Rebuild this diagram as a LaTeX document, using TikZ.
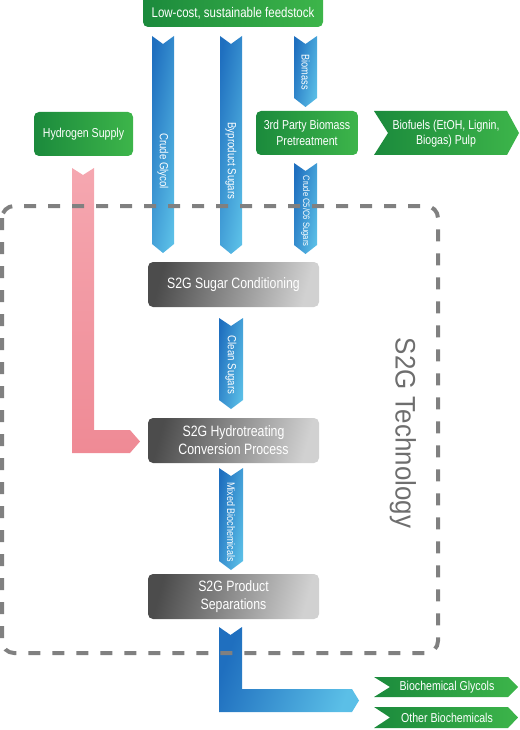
\documentclass[tikz,border=0pt]{standalone}
\usepackage{fontspec}
\setmainfont[FakeStretch=0.82]{Liberation Sans}
\newfontfamily\techfont[FakeStretch=0.92]{Liberation Sans}
\definecolor{gdark}{HTML}{1B8A3C}
\definecolor{glight}{HTML}{3DB54A}
\definecolor{bdark}{HTML}{1F6FBF}
\definecolor{blight}{HTML}{5BBFE7}
\definecolor{pinkA}{HTML}{F5A7B0}
\definecolor{pinkB}{HTML}{EF8A95}
\definecolor{dgray}{HTML}{808080}
\definecolor{tgray}{HTML}{6E6E6E}
\newcommand\blkdown[5]{% x1 x2 ytop ybot label-node
  \shade[left color=bdark, right color=blight, shading angle=80]
    (#1,#3) -- ({(#1+#2)/2},{#3+8}) -- (#2,#3) -- (#2,{#4-9}) -- ({(#1+#2)/2},#4) -- (#1,{#4-9}) -- cycle;
  #5}
\begin{document}
\begin{tikzpicture}[x=1pt,y=-1pt,
  greenbox/.style={rounded corners=5pt, left color=gdark, right color=glight, text=white, align=center, inner sep=0pt, font=\fontsize{12.9}{16}\selectfont},
  graybox/.style={rounded corners=5pt, left color=black!70, right color=black!18, shading angle=75, text=white, align=center, inner sep=0pt, minimum width=171pt, minimum height=45pt, font=\fontsize{15}{18}\selectfont},
  chev/.style={left color=gdark, right color=glight},
  arrowlabel/.style={text=white, rotate=-90, inner sep=0pt, font=\fontsize{11.8}{13}\selectfont},
  chevtext/.style={text=white, align=center, inner sep=0pt, font=\fontsize{12.9}{15}\selectfont}]
\useasboundingbox (0,0) rectangle (519,730);

% top feedstock box
\node[greenbox, minimum width=180pt, minimum height=33pt] (feed) at (233,10.5) {};
\node[text=white, inner sep=0pt, font=\fontsize{14}{16}\selectfont] (feedtext) at (233,13) {Low-cost, sustainable feedstock};

% side boxes
\node[greenbox, minimum width=99pt, minimum height=44pt] (hyd) at (83.5,134) {Hydrogen Supply};
\node[greenbox, minimum width=102pt, minimum height=44pt] (pre) at (307,133) {3rd Party Biomass\\Pretreatment};

% biofuels chevron
\shade[chev] (374,111) -- (507,111) -- (519,133) -- (507,155) -- (374,155) -- (388,133) -- cycle;
\node[chevtext] (biofuel) at (446,133.5) {Biofuels (EtOH, Lignin,\\Biogas) Pulp};

% blue vertical arrows
\blkdown{152}{174}{36}{253}{\node[arrowlabel] (glycol) at (163,161) {Crude Glycol};}
\blkdown{220}{242}{36}{254}{\node[arrowlabel] (byprod) at (231,161) {Byproduct Sugars};}
\blkdown{294}{317}{36}{107}{\node[arrowlabel, font=\fontsize{11.2}{12}\selectfont] (biomass) at (305.5,72) {Biomass};}
\blkdown{294}{317}{163}{254}{\node[arrowlabel, font=\fontsize{9.3}{10}\selectfont] (c5c6) at (305.5,211) {Crude C5/C6 Sugars};}
\blkdown{219}{243}{318}{409}{\node[arrowlabel] (clean) at (231,365) {Clean Sugars};}
\blkdown{219}{243}{468}{570}{\node[arrowlabel, font=\fontsize{11}{12}\selectfont] (mixed) at (231,522) {Mixed Biochemicals};}

% pink hydrogen arrow
\shade[top color=pinkA, bottom color=pinkB] (72,168) -- (83,175) -- (94,168) -- (94,430) -- (130,430) -- (140,441.5) -- (130,453) -- (72,453) -- cycle;

% gray process boxes
\node[graybox] (cond) at (233.5,284.5) {S2G Sugar Conditioning};
\node[graybox] (hydro) at (233.5,440.5) {S2G Hydrotreating\\Conversion Process};
\node[graybox] (sep) at (233.5,596.5) {S2G Product\\Separations};

% output arrow
\shade[left color=bdark, right color=blight, shading angle=70] (219,627) -- (230.5,635) -- (242,627) -- (242,689) -- (352,689) -- (359,700.5) -- (352,712) -- (219,712) -- cycle;

% output chevrons
\shade[chev] (374,677) -- (508,677) -- (518,687) -- (508,697) -- (374,697) -- (390,687) -- cycle;
\node[chevtext] (glyc) at (447,687) {Biochemical Glycols};
\shade[chev] (374,707) -- (508,707) -- (518,717.5) -- (508,728) -- (374,728) -- (390,717.5) -- cycle;
\node[chevtext] (other) at (447,717.5) {Other Biochemicals};

% technology label
\node[text=tgray, rotate=-90, inner sep=0pt, font=\techfont\fontsize{28.2}{30}\selectfont] (tech) at (403,433) {S2G Technology};

% dashed boundary
\draw[dgray, line width=4pt, dash pattern=on 12pt off 12pt, rounded corners=12pt] (2,206) rectangle (438,653);
\end{tikzpicture}
\end{document}
